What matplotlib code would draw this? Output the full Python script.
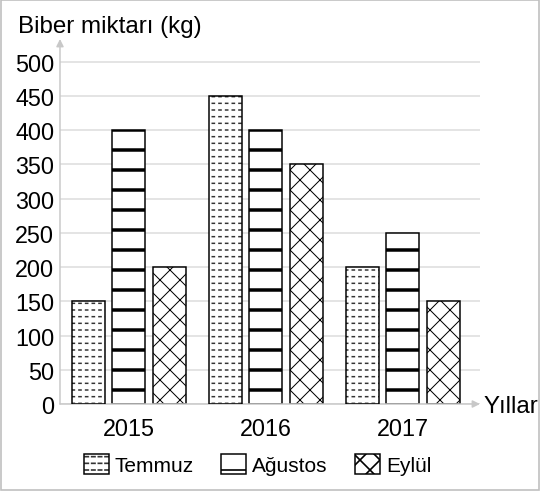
import matplotlib.pyplot as plt
import numpy as np
from matplotlib.legend_handler import HandlerTuple
from matplotlib.patches import Rectangle

years = ["2015", "2016", "2017"]
temmuz = [150, 450, 200]
agustos = [400, 400, 250]
eylul = [200, 350, 150]
y_ticks = [0, 50, 100, 150, 200, 250, 300, 350, 400, 450, 500]

plt.rcParams["font.family"] = ["Liberation Sans", "DejaVu Sans"]


def hatch_lw(bars, lw):
    for b in bars:
        if hasattr(b, "set_hatch_linewidth"):
            b.set_hatch_linewidth(lw)


fig = plt.figure(figsize=(4.5, 4.1), dpi=120)
ax = fig.add_axes([0.1111, 0.1768, 0.7778, 0.7419])

x = np.arange(len(years))
w = 0.241
step = 0.296

# Temmuz: dashed lines = dark stripes cut by white vertical stripes
t1 = ax.bar(x - step, temmuz, w, color="white", edgecolor="#333333",
            hatch="---", linewidth=0, zorder=2)
hatch_lw(t1, 0.9)
t2 = ax.bar(x - step, temmuz, w, color="none", edgecolor="white",
            hatch="|||", linewidth=0, zorder=3)
hatch_lw(t2, 1.8)
t3 = ax.bar(x - step, temmuz, w, color="none", edgecolor="black",
            linewidth=0.9, zorder=4)

a1 = ax.bar(x, agustos, w, color="white", edgecolor="black",
            hatch="-", linewidth=0.9, zorder=2)
hatch_lw(a1, 2.1)

e1 = ax.bar(x + step, eylul, w, color="white", edgecolor="black",
            hatch="xx", linewidth=0.9, zorder=2)
hatch_lw(e1, 0.6)

ax.set_xlim(-0.503, 2.565)
ax.set_ylim(0, 533)
ax.set_xticks(x)
ax.set_xticklabels(years)
ax.set_yticks(y_ticks)
ax.yaxis.grid(True, color="#dcdcdc", lw=0.9)
ax.set_axisbelow(True)
for s in ax.spines.values():
    s.set_visible(False)
ax.tick_params(axis="both", length=0, labelsize=14)
ax.tick_params(axis="y", pad=3.5)
ax.tick_params(axis="x", pad=7.5)

# axis arrows
ax.annotate("", xy=(0, 1), xytext=(0, 0), xycoords="axes fraction",
            arrowprops=dict(arrowstyle="-|>", color="#c8c8c8", lw=0.9,
                            mutation_scale=9, shrinkA=0, shrinkB=0))
ax.annotate("", xy=(1, 0), xytext=(0, 0), xycoords="axes fraction",
            arrowprops=dict(arrowstyle="-|>", color="#c8c8c8", lw=0.9,
                            mutation_scale=9, shrinkA=0, shrinkB=0))

fig.text(18 / 540, 1 - 33 / 492, "Biber miktarı (kg)", fontsize=14.5,
         ha="left", va="baseline")
fig.text(484 / 540, 1 - 407 / 492, "Yıllar", fontsize=14.5,
         ha="left", va="center")

fig.legend([(t1[0], t2[0], t3[0]), a1[0], e1[0]],
           ["Temmuz", "Ağustos", "Eylül"],
           handler_map={tuple: HandlerTuple(ndivide=1)},
           loc="center", bbox_to_anchor=(0.477, 0.053), ncol=3,
           frameon=False, fontsize=12.5, handlelength=1.2,
           handleheight=1.1, handletextpad=0.3, columnspacing=1.3,
           borderpad=0)

fig.patches.append(Rectangle((0.002, 0.002), 0.996, 0.996,
                             transform=fig.transFigure, fill=False,
                             edgecolor="#c0c0c0", lw=1))

fig.savefig("out.png", dpi=120)
